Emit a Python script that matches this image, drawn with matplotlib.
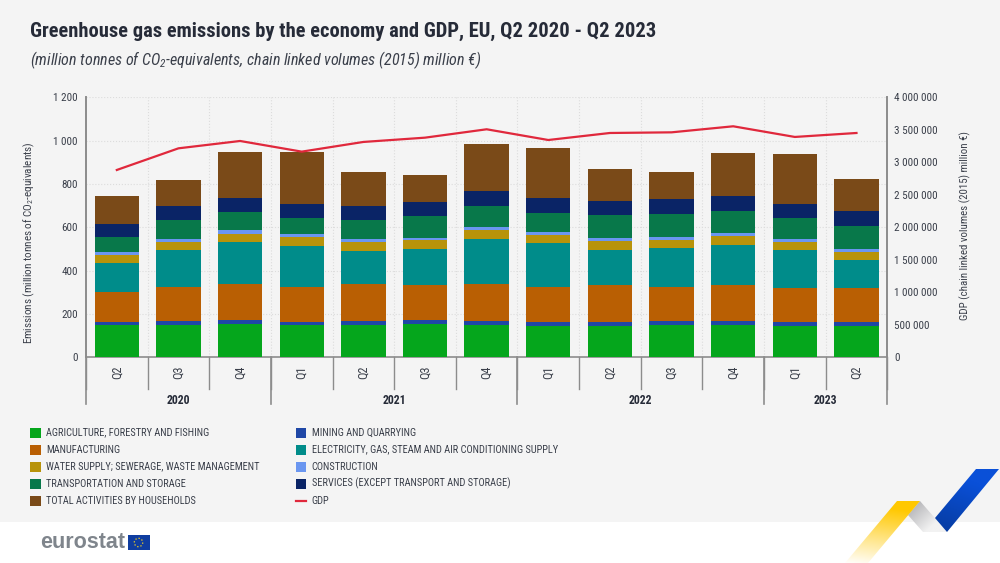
import numpy as np
import matplotlib
matplotlib.use("Agg")
import matplotlib.pyplot as plt
from matplotlib.patches import Polygon, Rectangle

FONT = "Roboto Condensed"
plt.rcParams["font.family"] = [FONT, "DejaVu Sans"]
plt.rcParams["mathtext.default"] = "regular"

# data
quarters = ["Q2", "Q3", "Q4", "Q1", "Q2", "Q3", "Q4", "Q1", "Q2", "Q3", "Q4", "Q1", "Q2"]
years = ["2020", "2021", "2022", "2023"]
year_counts = [3, 4, 4, 2]

agriculture = [149, 151, 152, 148, 151, 154, 151, 145, 146, 151, 148, 145, 146]
mining = [16, 18, 19, 15, 17, 18, 18, 17, 17, 17, 18, 17, 17]
manufacturing = [137, 157, 169, 160, 170, 160, 171, 164, 171, 158, 166, 156, 159]
electricity = [133, 169, 191, 192, 154, 170, 208, 202, 163, 177, 186, 176, 127]
water = [36, 39, 40, 39, 42, 38, 40, 35, 38, 39, 40, 38, 39]
construction = [14, 12, 15, 14, 12, 12, 14, 14, 16, 13, 14, 14, 14]
transport = [72, 89, 85, 77, 88, 100, 95, 89, 104, 108, 103, 96, 104]
services = [57, 65, 63, 61, 63, 66, 69, 68, 68, 69, 70, 66, 68]
households = [129, 120, 215, 240, 158, 125, 217, 234, 146, 123, 198, 229, 148]
gdp = [2882000, 3215000, 3328000, 3164000, 3313000, 3379000, 3508000,
       3343000, 3451000, 3461000, 3554000, 3390000, 3451000]

series = [
    ("AGRICULTURE, FORESTRY AND FISHING", agriculture, "#05A61C"),
    ("MINING AND QUARRYING", mining, "#1F47A6"),
    ("MANUFACTURING", manufacturing, "#B95F03"),
    ("ELECTRICITY, GAS, STEAM AND AIR CONDITIONING SUPPLY", electricity, "#008C8A"),
    ("WATER SUPPLY; SEWERAGE, WASTE MANAGEMENT", water, "#B8930A"),
    ("CONSTRUCTION", construction, "#6A96F0"),
    ("TRANSPORTATION AND STORAGE", transport, "#08784A"),
    ("SERVICES (EXCEPT TRANSPORT AND STORAGE)", services, "#0A2466"),
    ("TOTAL ACTIVITIES BY HOUSEHOLDS", households, "#7A4A18"),
]
gdp_label = "GDP"
gdp_color = "#E0283C"

left_ticks = [0, 200, 400, 600, 800, 1000, 1200]
left_labels = ["0", "200", "400", "600", "800", "1 000", "1 200"]
right_ticks = [0, 500000, 1000000, 1500000, 2000000, 2500000, 3000000, 3500000, 4000000]
right_labels = ["0", "500 000", "1 000 000", "1 500 000", "2 000 000", "2 500 000",
                "3 000 000", "3 500 000", "4 000 000"]

W, H = 1000, 563
BG = "#F4F4F4"
TEXT = "#3A3F4A"
AXIS = "#8C8C8C"
TICK_SIZE = 8.0
fig = plt.figure(figsize=(W / 100, H / 100), dpi=100, facecolor="white")

# page furniture, in pixel coordinates
page = fig.add_axes([0, 0, 1, 1], zorder=0)
page.set_xlim(0, W)
page.set_ylim(H, 0)
page.axis("off")
page.add_patch(Rectangle((0, 0), W, 521.7, color=BG, lw=0))


def ribbon(points, start, end, angle):
    # gradient clipped to a polygon, angle picks the direction of the fade
    pts = np.array(points)
    x0, x1, y0, y1 = pts[:, 0].min(), pts[:, 0].max(), pts[:, 1].min(), pts[:, 1].max()
    xx, yy = np.meshgrid(np.linspace(0, 1, 60), np.linspace(0, 1, 60))
    t = np.clip(xx * np.cos(angle) + yy * np.sin(angle), 0, 1)
    start = np.array(matplotlib.colors.to_rgb(start))
    end = np.array(matplotlib.colors.to_rgb(end))
    img = start + (end - start) * t[..., None]
    im = page.imshow(img, extent=(x0, x1, y1, y0), aspect="auto", zorder=1)
    clip = Polygon(points, transform=page.transData, fc="none", ec="none")
    page.add_patch(clip)
    im.set_clip_path(clip)
    page.set_xlim(0, W)
    page.set_ylim(H, 0)


ribbon([(908, 515), (920, 501), (947, 532), (923, 532)], "#A8A8AC", "#F2F2F2", 0.7)
ribbon([(897, 501), (920, 501), (868, 563), (845, 563)], "#FFC800", "#FFFFFF", 1.75)
ribbon([(976, 469), (999, 469), (947, 532), (935, 518)], "#0A50D8", "#063A9C", 1.9)

page.text(40.5, 542.5, "eurostat", fontfamily="Liberation Sans", fontweight="bold",
          fontsize=15.5, color="#7F858C", va="center", ha="left")
page.add_patch(Rectangle((127.5, 535), 22, 15, color="#0F3DA0", lw=0, zorder=2))
page.add_patch(plt.Circle((138.5, 542.5), 4.2, fc="none", ec="#F6D21E", lw=0.9, ls=":", zorder=3))

page.text(29.5, 31, "Greenhouse gas emissions by the economy and GDP, EU, Q2 2020 - Q2 2023",
          fontsize=14.8, fontweight="bold", color="#262B38", va="center")
page.text(30, 60, "(million tonnes of CO$_2$-equivalents, chain linked volumes (2015) million €)",
          fontsize=11.5, fontstyle="italic", color=TEXT, va="center")

# chart
ax = fig.add_axes([86 / W, 1 - 357.3 / H, (887.3 - 86) / W, 260 / H], zorder=2)
ax.patch.set_alpha(0)
x = np.arange(len(quarters))
bottom = np.zeros(len(quarters))
for name, values, color in series:
    ax.bar(x, values, 0.72, bottom=bottom, color=color, label=name, zorder=3)
    bottom += np.array(values)

ax.set_xlim(-0.5, len(quarters) - 0.5)
ax.set_ylim(0, 1200)
ax.set_yticks(left_ticks)
ax.set_yticklabels(left_labels, fontsize=TICK_SIZE, color=TEXT)
ax.tick_params(axis="y", length=0, pad=6)
ax.set_xticks(x)
ax.set_xticklabels(quarters, rotation=90, fontsize=TICK_SIZE + 0.8, color=TEXT)
ax.tick_params(axis="x", length=0, pad=6)
ax.yaxis.grid(True, color="#DCDCDC", ls=":", lw=0.8, zorder=0)
for b in x[:-1] + 0.5:
    ax.axvline(b, color="#DCDCDC", ls=":", lw=0.8, zorder=0)
ax.set_axisbelow(True)
ax.set_ylabel("Emissions (million tonnes of CO$_2$-equivalents)", fontsize=TICK_SIZE, color=TEXT)
ax.yaxis.set_label_coords((37 - 86) / (887.3 - 86), 0.44)
for s in ["top", "left", "right"]:
    ax.spines[s].set_visible(False)
ax.spines["bottom"].set_color(AXIS)
ax.spines["bottom"].set_linewidth(1.2)

ax2 = ax.twinx()
ax2.patch.set_alpha(0)
ax2.plot(x, gdp, color=gdp_color, lw=1.6, label=gdp_label, zorder=5)
ax2.set_ylim(0, 4000000)
ax2.set_yticks(right_ticks)
ax2.set_yticklabels(right_labels, fontsize=TICK_SIZE, color=TEXT)
ax2.tick_params(axis="y", length=0, pad=5)
ax2.set_ylabel("GDP (chain linked volumes (2015) million €)", fontsize=TICK_SIZE - 0.2, color=TEXT)
ax2.yaxis.set_label_coords((960 - 86) / (887.3 - 86), 0.505)
for s in ["top", "left", "right", "bottom"]:
    ax2.spines[s].set_visible(False)

# multi level category axis
trans = ax.get_xaxis_transform()
low = -(389 - 357.3) / 260
lowest = -(403.5 - 357.3) / 260
year_edges = np.concatenate([[0], np.cumsum(year_counts)]) - 0.5
for b in np.arange(len(quarters) + 1) - 0.5:
    ax.plot([b, b], [0, low], color=AXIS, lw=1, transform=trans, clip_on=False, zorder=4)
for b in year_edges:
    ax.plot([b, b], [0, lowest], color=AXIS, lw=1.2, transform=trans, clip_on=False, zorder=4)
for b in (-0.5, len(quarters) - 0.5):
    ax.plot([b, b], [0, 1], color=AXIS, lw=1.4, transform=trans, clip_on=False, zorder=4)
for year, a, b in zip(years, year_edges[:-1], year_edges[1:]):
    ax.text((a + b) / 2, -(400.5 - 357.3) / 260, year, transform=trans, ha="center", va="center",
            fontsize=8.5, fontweight="bold", color="#262B38")

# legend, read row by row, two columns
entries = [(name, color) for name, _, color in series] + [(gdp_label, gdp_color)]
for i, (name, color) in enumerate(entries):
    col_x = 30 if i % 2 == 0 else 295.7
    row_y = 432.7 + 17 * (i // 2)
    if name == gdp_label:
        page.plot([col_x, col_x + 10.5], [row_y, row_y], color=color, lw=1.6)
    else:
        page.add_patch(Rectangle((col_x, row_y - 5), 10.5, 10, color=color, lw=0))
    page.text(col_x + 16, row_y, name, fontsize=7.5, color=TEXT, va="center")

fig.savefig("out.png", dpi=100, facecolor=fig.get_facecolor())
